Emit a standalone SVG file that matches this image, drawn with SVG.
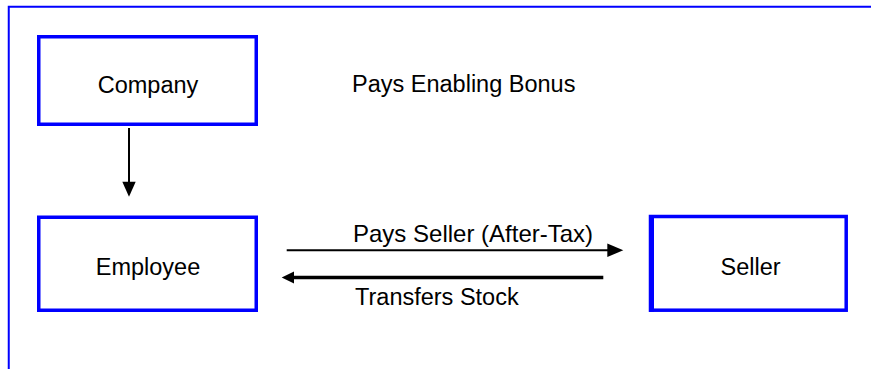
<svg xmlns="http://www.w3.org/2000/svg" width="871" height="369" viewBox="0 0 871 369">
  <style>
    .box { fill: #ffffff; stroke: #0000ff; stroke-width: 3.5; }
    .frame { fill: none; stroke: #0000ff; stroke-width: 2; }
    .lbl { font-family: "Liberation Sans", Arial, sans-serif; font-size: 23.5px; fill: #000000; }
    .mid { text-anchor: middle; }
    .wire { stroke: #000000; fill: none; }
    .head { fill: #000000; }
  </style>
  <rect width="871" height="369" fill="#ffffff"/>

  <!-- outer frame: left and top borders -->
  <path class="frame" d="M8.75,369 V6.75 H871"/>

  <g id="company">
    <rect class="box" x="38.75" y="36.75" width="217.5" height="87.5"/>
    <text class="lbl mid" x="148" y="92.5">Company</text>
  </g>

  <g id="employee">
    <rect class="box" x="38.75" y="217.25" width="217.5" height="93"/>
    <text class="lbl mid" x="148" y="274.5">Employee</text>
  </g>

  <g id="seller">
    <rect class="box" x="650.5" y="216.5" width="195.7" height="93.7"/>
    <rect x="649" y="215" width="5" height="96.7" fill="#0000ff"/>
    <text class="lbl mid" x="750.5" y="275">Seller</text>
  </g>

  <g id="bonus-label">
    <text class="lbl" x="352" y="92.3">Pays Enabling Bonus</text>
  </g>

  <g id="connectors">
    <!-- Company to Employee -->
    <line class="wire" x1="129" y1="128" x2="129" y2="183" stroke-width="2"/>
    <polygon class="head" points="122.3,181.7 135.7,181.7 129,196.7"/>

    <!-- Employee to Seller: payment -->
    <line class="wire" x1="286.7" y1="250.3" x2="608" y2="250.3" stroke-width="2"/>
    <polygon class="head" points="607.3,243.5 623.3,250.3 607.3,257"/>
    <text class="lbl" x="353" y="242" style="font-size:24px">Pays Seller (After-Tax)</text>

    <!-- Seller to Employee: stock -->
    <line class="wire" x1="293" y1="277.5" x2="603.3" y2="277.5" stroke-width="3.5"/>
    <polygon class="head" points="294,271.5 281.7,277.5 294,283.5"/>
    <text class="lbl" x="355" y="305">Transfers Stock</text>
  </g>
</svg>
